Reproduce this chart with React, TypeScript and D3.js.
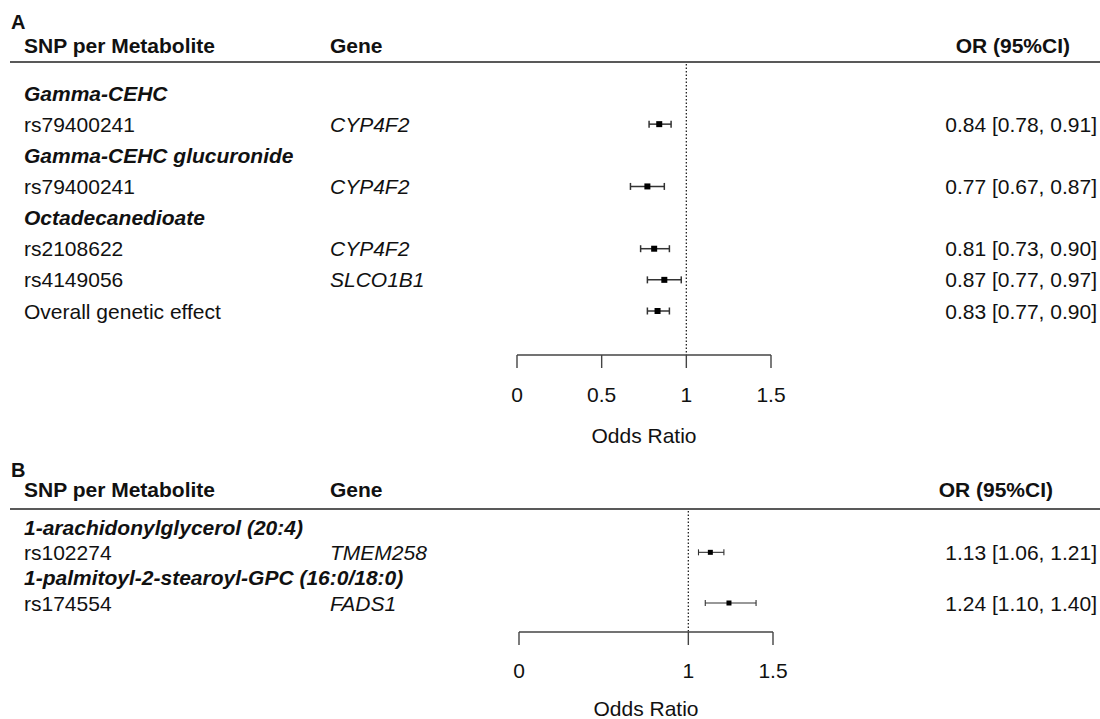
import React from "react";
import * as d3 from "d3";

// ---------- Panel A data ----------
const aRowLabels = [
  "Gamma-CEHC",
  "rs79400241",
  "Gamma-CEHC glucuronide",
  "rs79400241",
  "Octadecanedioate",
  "rs2108622",
  "rs4149056",
  "Overall genetic effect",
];
const aRowIsGroup = [true, false, true, false, true, false, false, false];
const aGenes = ["", "CYP4F2", "", "CYP4F2", "", "CYP4F2", "SLCO1B1", ""];
const aOR = [NaN, 0.84, NaN, 0.77, NaN, 0.81, 0.87, 0.83];
const aLo = [NaN, 0.78, NaN, 0.67, NaN, 0.73, 0.77, 0.77];
const aHi = [NaN, 0.91, NaN, 0.87, NaN, 0.9, 0.97, 0.9];
const aTicks = [0, 0.5, 1, 1.5];

// ---------- Panel B data ----------
const bRowLabels = [
  "1-arachidonylglycerol (20:4)",
  "rs102274",
  "1-palmitoyl-2-stearoyl-GPC (16:0/18:0)",
  "rs174554",
];
const bRowIsGroup = [true, false, true, false];
const bGenes = ["", "TMEM258", "", "FADS1"];
const bOR = [NaN, 1.13, NaN, 1.24];
const bLo = [NaN, 1.06, NaN, 1.1];
const bHi = [NaN, 1.21, NaN, 1.4];
const bTicks = [0, 1, 1.5];

const headers = ["SNP per Metabolite", "Gene", "OR (95%CI)"];
const xTitle = "Odds Ratio";

const FONT = "'Liberation Sans', Arial, Helvetica, sans-serif";
const TXT = "#111";

function fmt(v: number) {
  return v.toFixed(2);
}

type PanelProps = {
  letter: string;
  letterY: number;
  headerY: number;
  lineY: number;
  orHeaderX: number;
  labels: string[];
  isGroup: boolean[];
  genes: string[];
  or: number[];
  lo: number[];
  hi: number[];
  ticks: number[];
  xRange: [number, number];
  yRange: [number, number];
  axisY: number;
  tickLabelY: number;
  titleY: number;
  sq: number;
  cap: number;
  sw: number;
};

function Panel(p: PanelProps) {
  const x = d3.scaleLinear().domain([0, 1.5]).range(p.xRange);
  const y = d3
    .scaleLinear()
    .domain([0, p.labels.length - 1])
    .range(p.yRange);
  const fs = 21;
  return (
    <g>
      <text x={11} y={p.letterY} fontSize={20} fontWeight="bold" fill={TXT}>
        {p.letter}
      </text>
      <text x={24} y={p.headerY} fontSize={fs} fontWeight="bold" fill={TXT}>
        {headers[0]}
      </text>
      <text x={330} y={p.headerY} fontSize={fs} fontWeight="bold" fill={TXT}>
        {headers[1]}
      </text>
      <text
        x={p.orHeaderX}
        y={p.headerY}
        fontSize={fs}
        fontWeight="bold"
        textAnchor="end"
        fill={TXT}
      >
        {headers[2]}
      </text>
      <line x1={10} x2={1100} y1={p.lineY} y2={p.lineY} stroke="#222" strokeWidth={1.6} />
      {/* reference line at OR = 1 */}
      <line
        x1={x(1)}
        x2={x(1)}
        y1={p.lineY + 2}
        y2={p.axisY}
        stroke="#222"
        strokeWidth={1.3}
        strokeDasharray="1.5,2"
      />
      {p.labels.map((lab, i) => {
        const cy = y(i);
        const base = cy + 7.5;
        return (
          <g key={i}>
            <text
              x={24}
              y={base}
              fontSize={fs}
              fontWeight={p.isGroup[i] ? "bold" : "normal"}
              fontStyle={p.isGroup[i] ? "italic" : "normal"}
              fill={TXT}
            >
              {lab}
            </text>
            {p.genes[i] && (
              <text x={330} y={base} fontSize={fs} fontStyle="italic" fill={TXT}>
                {p.genes[i]}
              </text>
            )}
            {!isNaN(p.or[i]) && (
              <g>
                <text x={1097} y={base} fontSize={fs} textAnchor="end" fill={TXT}>
                  {`${fmt(p.or[i])} [${fmt(p.lo[i])}, ${fmt(p.hi[i])}]`}
                </text>
                <line x1={x(p.lo[i])} x2={x(p.hi[i])} y1={cy} y2={cy} stroke="#333" strokeWidth={p.sw} />
                <line x1={x(p.lo[i])} x2={x(p.lo[i])} y1={cy - p.cap} y2={cy + p.cap} stroke="#333" strokeWidth={p.sw} />
                <line x1={x(p.hi[i])} x2={x(p.hi[i])} y1={cy - p.cap} y2={cy + p.cap} stroke="#333" strokeWidth={p.sw} />
                <rect
                  x={x(p.or[i]) - p.sq / 2}
                  y={cy - p.sq / 2}
                  width={p.sq}
                  height={p.sq}
                  fill="#000"
                />
              </g>
            )}
          </g>
        );
      })}
      {/* x axis */}
      <line x1={x(0)} x2={x(1.5)} y1={p.axisY} y2={p.axisY} stroke="#444" strokeWidth={1.4} />
      {p.ticks.map((t) => (
        <g key={t}>
          <line x1={x(t)} x2={x(t)} y1={p.axisY} y2={p.axisY + 13} stroke="#444" strokeWidth={1.4} />
          <text x={x(t)} y={p.tickLabelY} fontSize={fs} textAnchor="middle" fill={TXT}>
            {String(t)}
          </text>
        </g>
      ))}
      <text
        x={(x(0) + x(1.5)) / 2}
        y={p.titleY}
        fontSize={fs}
        textAnchor="middle"
        fill={TXT}
      >
        {xTitle}
      </text>
    </g>
  );
}

export default function App() {
  return (
    <svg
      width={1100}
      height={719}
      style={{ position: "absolute", left: 0, top: 0, background: "#fff" }}
      fontFamily={FONT}
    >
      <rect x={0} y={0} width={1100} height={719} fill="#fff" />
      <Panel
        letter="A"
        letterY={29}
        headerY={53}
        lineY={62}
        orHeaderX={1070}
        labels={aRowLabels}
        isGroup={aRowIsGroup}
        genes={aGenes}
        or={aOR}
        lo={aLo}
        hi={aHi}
        ticks={aTicks}
        xRange={[517, 771]}
        yRange={[93, 311]}
        axisY={355}
        tickLabelY={402}
        titleY={443}
        sq={6}
        cap={3.5}
        sw={1.5}
      />
      <Panel
        letter="B"
        letterY={477}
        headerY={497}
        lineY={509}
        orHeaderX={1053}
        labels={bRowLabels}
        isGroup={bRowIsGroup}
        genes={bGenes}
        or={bOR}
        lo={bLo}
        hi={bHi}
        ticks={bTicks}
        xRange={[519, 773]}
        yRange={[527, 603]}
        axisY={632}
        tickLabelY={678}
        titleY={716}
        sq={5}
        cap={3}
        sw={1.1}
      />
    </svg>
  );
}
